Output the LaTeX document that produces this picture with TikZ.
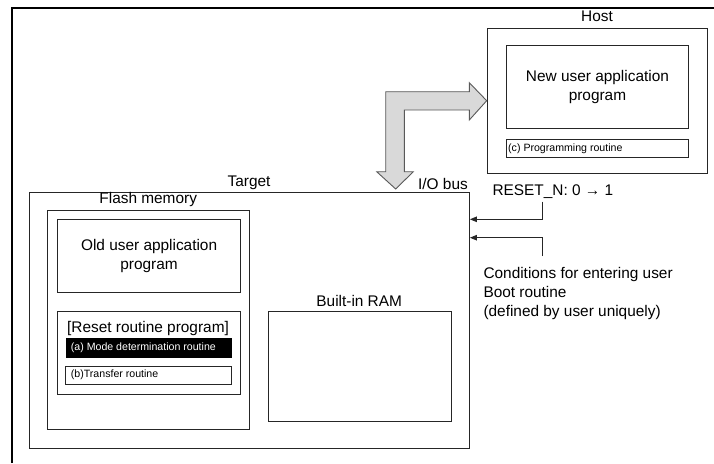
\documentclass[tikz,border=0pt]{standalone}
\usepackage{fontspec}
\setmainfont{Liberation Sans}
\usetikzlibrary{arrows.meta}
\begin{document}
\begin{tikzpicture}[x=1pt,y=-1pt,
  box/.style={draw=black!85, line width=0.9pt, inner sep=0pt, anchor=north west},
  big/.style={font=\fontsize{15.4}{18.5}\selectfont, inner sep=0pt},
  small/.style={font=\fontsize{10.6}{12}\selectfont, inner sep=0pt},
  sig/.style={draw=black!85, line width=0.9pt, -{Triangle[length=7pt,width=5.5pt]}},
  busarrow/.style={fill=black!15, draw=black!65, line width=0.9pt, line join=miter}]
\useasboundingbox (0,0) rectangle (714,463);
\fill[white] (0,0) rectangle (714,463);

% page frame
\coordinate (fbl) at (12,463);
\coordinate (ftl) at (12,8);
\coordinate (ftr) at (714,8);
\draw[black, line width=1.1pt] (fbl) -- (ftl) -- (ftr);

% host side
\node[box, minimum width=220.3pt, minimum height=145pt] (host) at (486.7,28.3) {};
\node[big] (hostlbl) at (597,16) {Host};
\node[box, minimum width=182.6pt, minimum height=82.7pt] (newapp) at (505.7,45) {};
\node[big, align=center] (newtxt) at (newapp.center) {New user application\\program};
\node[box, minimum width=182.6pt, minimum height=18pt] (prog) at (505.7,139.3) {};
\node[small, anchor=west] (progtxt) at (508,148.3) {(c) Programming routine};

% target side
\node[box, minimum width=439.7pt, minimum height=256.6pt] (target) at (29.3,191.7) {};
\node[big] (targetlbl) at (249,183) {Target};
\node[big, anchor=east] (iolbl) at (468,183.5) {I/O bus};

\node[box, minimum width=201.7pt, minimum height=219.3pt] (flash) at (47.3,210) {};
\node[big] (flashlbl) at (148.2,200) {Flash memory};
\node[box, minimum width=182.7pt, minimum height=73.3pt] (oldapp) at (57.3,219) {};
\node[big, align=center] (oldtxt) at (oldapp.center) {Old user application\\program};

\node[box, minimum width=183.3pt, minimum height=83pt] (reset) at (56.7,310.7) {};
\node[big] (resettxt) at (148,329) {[Reset routine program]};
\node[box, fill=black, draw=black, minimum width=164.7pt, minimum height=18.4pt] (modebox) at (66,338.3) {};
\node[small, anchor=west, text=white] (modetxt) at (70.7,347.5) {(a) Mode determination routine};
\node[box, minimum width=165.4pt, minimum height=18.3pt] (xfer) at (65.3,365.7) {};
\node[small, anchor=west] (xfertxt) at (70.7,374.8) {(b)Transfer routine};

\node[box, minimum width=183pt, minimum height=110pt] (ram) at (267.7,310.7) {};
\node[big] (ramlbl) at (359.2,300.7) {Built-in RAM};

% I/O bus arrow between host and target
\coordinate (b1) at (395.7,189);
\coordinate (b2) at (413.3,171.7);
\coordinate (b3) at (404.3,171.7);
\coordinate (b4) at (404.3,110);
\coordinate (b5) at (469.3,110);
\coordinate (b6) at (469.3,120);
\coordinate (b7) at (host.west |- 0,100.7);
\coordinate (b8) at (469.3,82.7);
\coordinate (b9) at (469.3,91.7);
\coordinate (b10) at (385.7,91.7);
\coordinate (b11) at (385.7,171.7);
\coordinate (b12) at (376.7,171.7);
\draw[busarrow] (b1) -- (b2) -- (b3) -- (b4) -- (b5) -- (b6) -- (b7) -- (b8) -- (b9) -- (b10) -- (b11) -- (b12) -- cycle;

% boot condition signals
\node[big, anchor=west] (resetn) at (492.3,192) {RESET\_N: 0 → 1};
\node[big, anchor=west, align=left, font=\fontsize{15.4}{19}\selectfont] (cond) at (483.3,294)
  {Conditions for entering user\\Boot routine\\(defined by user uniquely)};
\coordinate (s1) at (542.3,201.7);
\coordinate (t1) at (target.east |- 0,219.3);
\coordinate (s2) at (542.3,256);
\coordinate (t2) at (target.east |- 0,237.7);
\draw[sig] (s1) |- (t1);
\draw[sig] (s2) |- (t2);
\end{tikzpicture}
\end{document}
